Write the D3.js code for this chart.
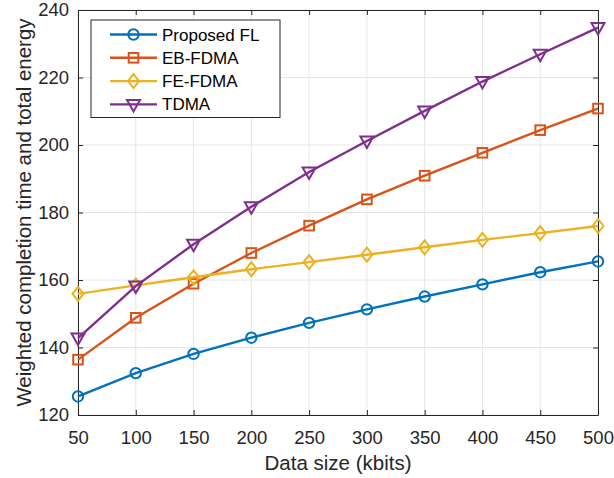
<!DOCTYPE html>
<html>
<head>
<meta charset="utf-8">
<script src="https://d3js.org/d3.v7.min.js"></script>
<style>
  html, body { margin: 0; padding: 0; background: #fff; }
  svg { display: block; font-family: "Liberation Sans", Arial, Helvetica, sans-serif; }
</style>
</head>
<body>
<svg id="chart" width="614" height="478"></svg>
<script>
// Data size (kbits)
const dataSizes = [50, 100, 150, 200, 250, 300, 350, 400, 450, 500];

// Weighted completion time and total energy per scheme
const proposedFL = [125.5, 132.4, 138.1, 142.9, 147.3, 151.3, 155.1, 158.7, 162.3, 165.5];
const ebFDMA     = [136.4, 148.8, 158.9, 168.0, 176.1, 183.9, 190.9, 197.7, 204.4, 210.8];
const feFDMA     = [155.9, 158.4, 160.8, 163.2, 165.3, 167.5, 169.7, 171.9, 173.9, 176.0];
const tdma       = [142.8, 158.2, 170.6, 181.7, 192.0, 201.2, 210.1, 218.8, 226.9, 234.8];

const seriesNames = ["Proposed FL", "EB-FDMA", "FE-FDMA", "TDMA"];
const seriesColors = ["#0072BD", "#D95319", "#EDB120", "#7E2F8E"];
const seriesMarkers = ["circle", "square", "diamond", "triangleDown"];

const xTicks = [50, 100, 150, 200, 250, 300, 350, 400, 450, 500];
const yTicks = [120, 140, 160, 180, 200, 220, 240];

const series = [proposedFL, ebFDMA, feFDMA, tdma].map((vals, i) => ({
  name: seriesNames[i], color: seriesColors[i], marker: seriesMarkers[i],
  points: vals.map((v, j) => ({ x: dataSizes[j], y: v }))
}));

const svg = d3.select("#chart");
const plot = { left: 78, right: 598, top: 10, bottom: 415 };

const x = d3.scaleLinear().domain([50, 500]).range([plot.left, plot.right]);
const y = d3.scaleLinear().domain([120, 240]).range([plot.bottom, plot.top]);

// Grid
const grid = svg.append("g").attr("stroke", "#e6e6e6").attr("stroke-width", 1);
grid.selectAll("line.gx").data(xTicks).join("line")
  .attr("x1", d => x(d)).attr("x2", d => x(d))
  .attr("y1", plot.top).attr("y2", plot.bottom);
grid.selectAll("line.gy").data(yTicks).join("line")
  .attr("x1", plot.left).attr("x2", plot.right)
  .attr("y1", d => y(d)).attr("y2", d => y(d));

// Axes (inward ticks on all sides, closed box)
const tickLen = 5;
const axisColor = "#262626";
const tickFont = 18.5;

const xAxisB = d3.axisBottom(x).tickValues(xTicks).tickSizeInner(-tickLen).tickSizeOuter(0).tickPadding(16);
const xAxisT = d3.axisTop(x).tickValues(xTicks).tickSizeInner(-tickLen).tickSizeOuter(0).tickFormat("");
const yAxisL = d3.axisLeft(y).tickValues(yTicks).tickSizeInner(-tickLen).tickSizeOuter(0).tickPadding(9);
const yAxisR = d3.axisRight(y).tickValues(yTicks).tickSizeInner(-tickLen).tickSizeOuter(0).tickFormat("");

function styleAxis(g) {
  g.select(".domain").attr("stroke", axisColor).attr("stroke-width", 1);
  g.selectAll(".tick line").attr("stroke", axisColor).attr("stroke-width", 1);
  g.selectAll(".tick text").attr("fill", "#262626").attr("font-size", tickFont)
    .attr("font-family", "'Liberation Sans', Arial, sans-serif");
}

svg.append("g").attr("transform", `translate(0,${plot.bottom})`).call(xAxisB).call(styleAxis);
svg.append("g").attr("transform", `translate(0,${plot.top})`).call(xAxisT).call(styleAxis);
svg.append("g").attr("transform", `translate(${plot.left},0)`).call(yAxisL).call(styleAxis);
svg.append("g").attr("transform", `translate(${plot.right},0)`).call(yAxisR).call(styleAxis);

// Axis labels
svg.append("text")
  .attr("x", 338).attr("y", 470)
  .attr("text-anchor", "middle").attr("font-size", 20.5).attr("fill", "#262626")
  .text("Data size (kbits)");
svg.append("text")
  .attr("transform", `translate(31,${(plot.top + plot.bottom) / 2}) rotate(-90)`)
  .attr("text-anchor", "middle").attr("font-size", 20.5).attr("fill", "#262626")
  .text("Weighted completion time and total energy");

// Marker drawing
function drawMarker(g, type, color, cx, cy) {
  let el;
  if (type === "circle") {
    el = g.append("circle").attr("cx", cx).attr("cy", cy).attr("r", 5.2);
  } else if (type === "square") {
    el = g.append("rect").attr("x", cx - 4.8).attr("y", cy - 4.8).attr("width", 9.6).attr("height", 9.6);
  } else if (type === "diamond") {
    el = g.append("path").attr("d", `M${cx},${cy - 7}L${cx + 5.5},${cy}L${cx},${cy + 7}L${cx - 5.5},${cy}Z`);
  } else {
    el = g.append("path").attr("d", `M${cx - 6.5},${cy - 4.5}L${cx + 6.5},${cy - 4.5}L${cx},${cy + 7}Z`);
  }
  el.attr("fill", "none").attr("stroke", color).attr("stroke-width", 2);
}

const line = d3.line().x(d => x(d.x)).y(d => y(d.y));

series.forEach(s => {
  const g = svg.append("g");
  g.append("path").datum(s.points).attr("d", line)
    .attr("fill", "none").attr("stroke", s.color).attr("stroke-width", 2.4);
  s.points.forEach(p => drawMarker(g, s.marker, s.color, x(p.x), y(p.y)));
});

// Legend
const legend = svg.append("g");
legend.append("rect").attr("x", 91).attr("y", 20).attr("width", 189).attr("height", 97.5)
  .attr("fill", "#fff").attr("stroke", axisColor).attr("stroke-width", 1);
series.forEach((s, i) => {
  const ly = 34.5 + i * 23.3;
  legend.append("line").attr("x1", 110).attr("x2", 157).attr("y1", ly).attr("y2", ly)
    .attr("stroke", s.color).attr("stroke-width", 2.4);
  drawMarker(legend, s.marker, s.color, 133.5, ly);
  legend.append("text").attr("x", 162).attr("y", ly + 6)
    .attr("font-size", 17).attr("fill", "#000").text(s.name);
});
</script>
</body>
</html>
